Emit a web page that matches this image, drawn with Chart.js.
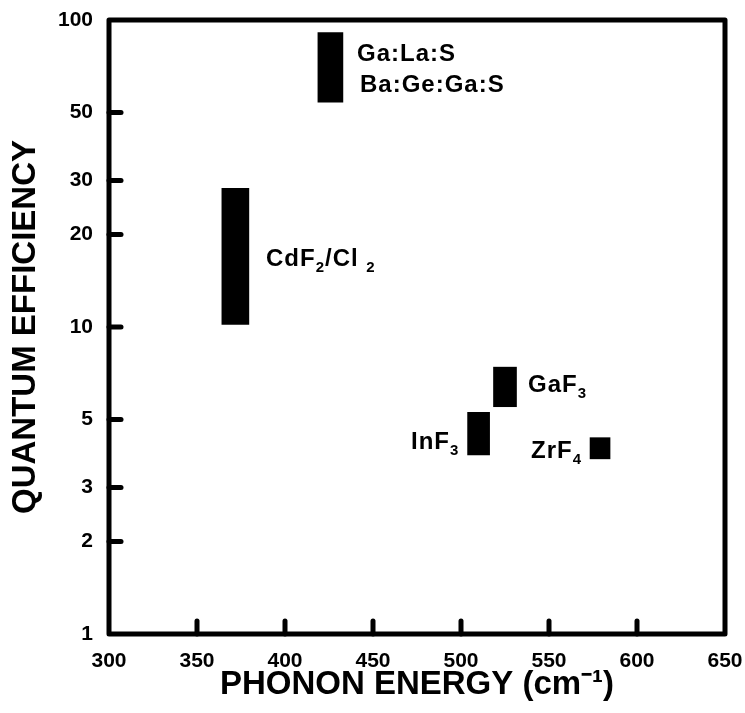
<!DOCTYPE html>
<html>
<head>
<meta charset="utf-8">
<script src="https://cdn.jsdelivr.net/npm/chart.js@4/dist/chart.umd.min.js"></script>
<style>
  html, body { margin: 0; padding: 0; background: #fff; }
  #wrap { width: 745px; height: 713px; }
</style>
</head>
<body>
<div id="wrap"><canvas id="c" width="745" height="713"></canvas></div>
<script>
// ---- data ----
const materials   = ['Ga:La:S / Ba:Ge:Ga:S', 'CdF2/Cl2', 'GaF3', 'InF3', 'ZrF4'];
const phononEnergy = [425.8, 371.8, 525, 510, 579];      // cm-1 (bar centre)
const qeLow        = [54, 10.2, 5.5, 3.83, 3.72];        // quantum efficiency, lower end
const qeHigh       = [91, 28.3, 7.4, 5.27, 4.36];        // quantum efficiency, upper end
const barWidthsPx  = [25, 27, 23, 22, 20];               // style: bar thickness

const xTickValues = [300, 350, 400, 450, 500, 550, 600, 650];
const yTickValues = [1, 2, 3, 5, 10, 20, 30, 50, 100];
const xInnerTicks = [350, 400, 450, 500, 550, 600];
const yInnerTicks = [2, 3, 5, 10, 20, 30, 50];

// annotation labels ("_d" = subscript digit), anchored in data coordinates
const labelTexts = ['Ga:La:S', 'Ba:Ge:Ga:S', 'CdF_2/Cl _2', 'GaF_3', 'InF_3', 'ZrF_4'];
const labelX     = [440.9, 442.6, 389.2, 538.1, 471.6, 539.8];
const labelY     = [78.4, 62.1, 16.9, 6.57, 4.28, 4.0];

const FONT = '"Liberation Sans", Arial, Helvetica, sans-serif';

const datasets = materials.map((m, i) => ({
  label: m,
  data: [{ x: phononEnergy[i], y: [qeLow[i], qeHigh[i]] }],
  backgroundColor: '#000',
  borderWidth: 0,
  barThickness: barWidthsPx[i],
  grouped: false
}));

function parseLabel(t) {
  const parts = [];
  let buf = '';
  for (let i = 0; i < t.length; i++) {
    if (t[i] === '_' && i + 1 < t.length) {
      if (buf) parts.push({ s: buf, sub: false });
      buf = '';
      parts.push({ s: t[i + 1], sub: true });
      i++;
    } else buf += t[i];
  }
  if (buf) parts.push({ s: buf, sub: false });
  return parts;
}

const decor = {
  id: 'decor',
  afterDatasetsDraw(chart) {
    const ctx = chart.ctx;
    const xs = chart.scales.x, ys = chart.scales.y;
    const a = chart.chartArea;
    ctx.save();
    // inner ticks
    ctx.strokeStyle = '#000';
    ctx.lineWidth = 5;
    ctx.lineCap = 'round';
    yInnerTicks.forEach(v => {
      const py = ys.getPixelForValue(v);
      ctx.beginPath(); ctx.moveTo(a.left, py); ctx.lineTo(a.left + 12, py); ctx.stroke();
    });
    xInnerTicks.forEach(v => {
      const px = xs.getPixelForValue(v);
      ctx.beginPath(); ctx.moveTo(px, a.bottom); ctx.lineTo(px, a.bottom - 13); ctx.stroke();
    });
    // frame
    ctx.lineCap = 'butt';
    ctx.lineJoin = 'round';
    ctx.lineWidth = 5;
    ctx.strokeRect(a.left, a.top, a.right - a.left, a.bottom - a.top);
    // labels
    ctx.fillStyle = '#000';
    ctx.textBaseline = 'alphabetic';
    ctx.textAlign = 'left';
    const size = 24, subSize = 15;
    labelTexts.forEach((t, i) => {
      let px = xs.getPixelForValue(labelX[i]);
      const py = ys.getPixelForValue(labelY[i]) + size * 0.36;
      parseLabel(t).forEach(p => {
        ctx.letterSpacing = '1px';
        if (p.sub) {
          ctx.font = 'bold ' + subSize + 'px ' + FONT;
          ctx.fillText(p.s, px, py + 6);
        } else {
          ctx.font = 'bold ' + size + 'px ' + FONT;
          ctx.fillText(p.s, px, py);
        }
        px += ctx.measureText(p.s).width;
      });
    });
    ctx.restore();
  }
};

new Chart(document.getElementById('c'), {
  type: 'bar',
  data: { datasets },
  plugins: [decor],
  options: {
    responsive: false,
    animation: false,
    devicePixelRatio: 1,
    layout: { padding: { top: 20, right: 20, bottom: 0, left: 0 } },
    plugins: { legend: { display: false }, tooltip: { enabled: false } },
    scales: {
      x: {
        type: 'linear',
        min: 300, max: 650,
        offset: false,
        grid: { display: false, drawTicks: false, tickLength: 0, offset: false },
        border: { display: false },
        afterBuildTicks: s => { s.ticks = xTickValues.map(v => ({ value: v })); },
        afterFit: s => { s.height = 79; s.paddingLeft = 0; s.paddingRight = 0; },
        ticks: {
          color: '#000', padding: 15, maxRotation: 0, autoSkip: false,
          font: { family: FONT, size: 21, weight: 'bold' },
          callback: v => String(v)
        },
        title: {
          display: true, text: 'PHONON ENERGY (cm\u207B\u00B9)', color: '#000',
          font: { family: FONT, size: 33, weight: 'bold' },
          padding: { top: 0, bottom: 8 }
        }
      },
      y: {
        type: 'logarithmic',
        min: 1, max: 100,
        grid: { display: false, drawTicks: false, tickLength: 0 },
        border: { display: false },
        afterBuildTicks: s => { s.ticks = yTickValues.map(v => ({ value: v })); },
        afterFit: s => { s.width = 109; s.paddingTop = 0; s.paddingBottom = 0; },
        ticks: {
          color: '#000', padding: 16, autoSkip: false,
          font: { family: FONT, size: 21, weight: 'bold' },
          callback: v => String(v)
        },
        title: {
          display: true, text: 'QUANTUM EFFICIENCY', color: '#000',
          font: { family: FONT, size: 33, weight: 'bold' },
          padding: { top: 6, bottom: 0 }
        }
      }
    }
  }
});
</script>
</body>
</html>
